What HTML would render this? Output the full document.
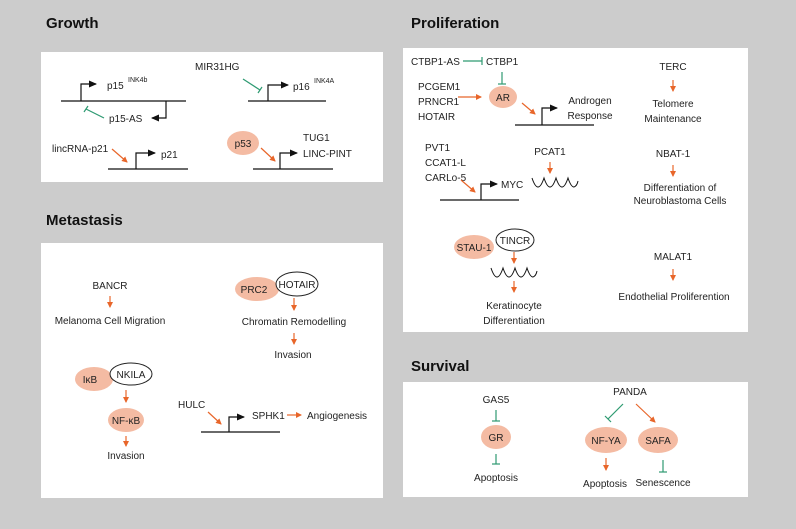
<!DOCTYPE html>
<html><head><meta charset="utf-8"><style>
html,body{margin:0;padding:0;background:#cccccc;}
svg{display:block;}
text{font-family:"Liberation Sans",Arial,sans-serif;font-size:10px;fill:#222;}
.t{font-size:15px;font-weight:bold;fill:#111;}
.c{text-anchor:middle;}
.o{stroke:#e8662a;stroke-width:1.2;fill:none;}
.g{stroke:#2e9a72;stroke-width:1.2;fill:none;}
.k{stroke:#111;stroke-width:1.2;fill:none;}
.f{fill:#f4bba3;}
.e{fill:#fff;stroke:#222;stroke-width:1;}
</style></head><body>
<svg width="796" height="529" viewBox="0 0 796 529" xmlns="http://www.w3.org/2000/svg">
<defs>
<marker id="ao" markerWidth="6" markerHeight="6" refX="5" refY="3" orient="auto" markerUnits="userSpaceOnUse"><path d="M0,0 L6,3 L0,6 Z" fill="#e8662a"/></marker>
<marker id="ak" markerWidth="8" markerHeight="7" refX="7" refY="3.5" orient="auto" markerUnits="userSpaceOnUse"><path d="M0,0 L8,3.5 L0,7 Z" fill="#111"/></marker>
</defs>
<rect width="796" height="529" fill="#cccccc"/>
<rect x="41" y="52" width="342" height="130" fill="#fff"/>
<rect x="403" y="48" width="345" height="284" fill="#fff"/>
<rect x="41" y="243" width="342" height="255" fill="#fff"/>
<rect x="403" y="382" width="345" height="115" fill="#fff"/>
<text class="t" x="46" y="28">Growth</text>
<text class="t" x="411" y="28">Proliferation</text>
<text class="t" x="46" y="225">Metastasis</text>
<text class="t" x="411" y="371">Survival</text>

<!-- Growth -->
<line class="k" x1="61" y1="101" x2="186" y2="101"/>
<path class="k" d="M81,101 V84 H96" marker-end="url(#ak)"/>
<text x="107" y="89">p15</text><text x="128" y="82" style="font-size:7px">INK4b</text>
<path class="k" d="M166,101 V118 H152" marker-end="url(#ak)"/>
<text x="109" y="122">p15-AS</text>
<line class="g" x1="104" y1="118" x2="86" y2="109"/><line class="g" x1="84" y1="112" x2="88" y2="106"/>
<text x="195" y="70">MIR31HG</text>
<line class="g" x1="243" y1="79" x2="260" y2="90"/><line class="g" x1="258" y1="93" x2="262" y2="87"/>
<line class="k" x1="248" y1="101" x2="326" y2="101"/>
<path class="k" d="M268,101 V85 H288" marker-end="url(#ak)"/>
<text x="293" y="90">p16</text><text x="314" y="83" style="font-size:7px">INK4A</text>
<text x="52" y="152">lincRNA-p21</text>
<line class="o" x1="112" y1="149" x2="127" y2="162" marker-end="url(#ao)"/>
<line class="k" x1="108" y1="169" x2="188" y2="169"/>
<path class="k" d="M136,169 V153 H155" marker-end="url(#ak)"/>
<text x="161" y="158">p21</text>
<ellipse class="f" cx="243" cy="143" rx="16" ry="12"/><text class="c" x="243" y="147">p53</text>
<line class="o" x1="261" y1="148" x2="275" y2="161" marker-end="url(#ao)"/>
<line class="k" x1="253" y1="169" x2="333" y2="169"/>
<path class="k" d="M280,169 V153 H297" marker-end="url(#ak)"/>
<text x="303" y="141">TUG1</text><text x="303" y="157">LINC-PINT</text>

<!-- Proliferation -->
<text x="411" y="65">CTBP1-AS</text>
<line class="g" x1="463" y1="61" x2="482" y2="61"/><line class="g" x1="482" y1="57" x2="482" y2="65"/>
<text x="486" y="65">CTBP1</text>
<line class="g" x1="502" y1="72" x2="502" y2="84"/><line class="g" x1="498" y1="84" x2="506" y2="84"/>
<text x="418" y="90">PCGEM1</text><text x="418" y="105">PRNCR1</text><text x="418" y="120">HOTAIR</text>
<line class="o" x1="458" y1="97" x2="481" y2="97" marker-end="url(#ao)"/>
<ellipse class="f" cx="503" cy="97" rx="14" ry="11"/><text class="c" x="503" y="101">AR</text>
<line class="o" x1="522" y1="103" x2="535" y2="114" marker-end="url(#ao)"/>
<line class="k" x1="515" y1="125" x2="594" y2="125"/>
<path class="k" d="M542,125 V108 H557" marker-end="url(#ak)"/>
<text class="c" x="590" y="104">Androgen</text><text class="c" x="590" y="119">Response</text>
<text class="c" x="673" y="70">TERC</text>
<line class="o" x1="673" y1="80" x2="673" y2="91" marker-end="url(#ao)"/>
<text class="c" x="673" y="107">Telomere</text><text class="c" x="673" y="122">Maintenance</text>
<text x="425" y="151">PVT1</text><text x="425" y="166">CCAT1-L</text><text x="425" y="181">CARLo-5</text>
<line class="o" x1="461" y1="180" x2="475" y2="192" marker-end="url(#ao)"/>
<line class="k" x1="440" y1="200" x2="519" y2="200"/>
<path class="k" d="M481,200 V184 H497" marker-end="url(#ak)"/>
<text x="501" y="188">MYC</text>
<path class="k" style="stroke-width:1" d="M532,178 Q535,187 538,187 Q541,187 544,178 Q547,187 550,187 Q553,187 556,178 Q559,187 562,187 Q565,187 568,178 Q571,187 574,187 Q577,186 578,181"/>
<text class="c" x="550" y="155">PCAT1</text>
<line class="o" x1="550" y1="162" x2="550" y2="173" marker-end="url(#ao)"/>
<text class="c" x="673" y="157">NBAT-1</text>
<line class="o" x1="673" y1="165" x2="673" y2="176" marker-end="url(#ao)"/>
<text class="c" x="680" y="191">Differentiation of</text><text class="c" x="680" y="204">Neuroblastoma Cells</text>
<ellipse class="f" cx="474" cy="247" rx="20" ry="12"/><text class="c" x="474" y="251">STAU-1</text>
<ellipse class="e" cx="515" cy="240" rx="19" ry="11"/><text class="c" x="515" y="244">TINCR</text>
<line class="o" x1="514" y1="252" x2="514" y2="263" marker-end="url(#ao)"/>
<path class="k" style="stroke-width:1" d="M491,268 Q494,277 497,277 Q500,277 503,268 Q506,277 509,277 Q512,277 515,268 Q518,277 521,277 Q524,277 527,268 Q530,277 533,277 Q536,276 537,271"/>
<line class="o" x1="514" y1="281" x2="514" y2="292" marker-end="url(#ao)"/>
<text class="c" x="514" y="309">Keratinocyte</text><text class="c" x="514" y="324">Differentiation</text>
<text class="c" x="673" y="260">MALAT1</text>
<line class="o" x1="673" y1="269" x2="673" y2="280" marker-end="url(#ao)"/>
<text class="c" x="674" y="300">Endothelial Proliferention</text>

<!-- Metastasis -->
<text class="c" x="110" y="289">BANCR</text>
<line class="o" x1="110" y1="296" x2="110" y2="307" marker-end="url(#ao)"/>
<text class="c" x="110" y="324">Melanoma Cell Migration</text>
<ellipse class="f" cx="257" cy="289" rx="22" ry="12"/><text class="c" x="254" y="293">PRC2</text>
<ellipse class="e" cx="297" cy="284" rx="21" ry="12"/><text class="c" x="297" y="288">HOTAIR</text>
<line class="o" x1="294" y1="298" x2="294" y2="310" marker-end="url(#ao)"/>
<text class="c" x="294" y="325">Chromatin Remodelling</text>
<line class="o" x1="294" y1="333" x2="294" y2="344" marker-end="url(#ao)"/>
<text class="c" x="293" y="358">Invasion</text>
<ellipse class="f" cx="94" cy="379" rx="19" ry="12"/><text class="c" x="90" y="383">IκB</text>
<ellipse class="e" cx="131" cy="374" rx="21" ry="11"/><text class="c" x="131" y="378">NKILA</text>
<line class="o" x1="126" y1="390" x2="126" y2="402" marker-end="url(#ao)"/>
<ellipse class="f" cx="126" cy="420" rx="18" ry="12"/><text class="c" x="126" y="424">NF-κB</text>
<line class="o" x1="126" y1="436" x2="126" y2="446" marker-end="url(#ao)"/>
<text class="c" x="126" y="459">Invasion</text>
<text x="178" y="408">HULC</text>
<line class="o" x1="208" y1="412" x2="221" y2="424" marker-end="url(#ao)"/>
<line class="k" x1="201" y1="432" x2="280" y2="432"/>
<path class="k" d="M229,432 V417 H244" marker-end="url(#ak)"/>
<text x="252" y="419">SPHK1</text>
<line class="o" x1="287" y1="415" x2="301" y2="415" marker-end="url(#ao)"/>
<text x="307" y="419">Angiogenesis</text>

<!-- Survival -->
<text class="c" x="496" y="403">GAS5</text>
<line class="g" x1="496" y1="410" x2="496" y2="421"/><line class="g" x1="492" y1="421" x2="500" y2="421"/>
<ellipse class="f" cx="496" cy="437" rx="15" ry="12"/><text class="c" x="496" y="441">GR</text>
<line class="g" x1="496" y1="454" x2="496" y2="464"/><line class="g" x1="492" y1="464" x2="500" y2="464"/>
<text class="c" x="496" y="481">Apoptosis</text>
<text class="c" x="630" y="395">PANDA</text>
<line class="g" x1="623" y1="404" x2="608" y2="419"/><line class="g" x1="605" y1="416" x2="611" y2="422"/>
<line class="o" x1="636" y1="404" x2="655" y2="422" marker-end="url(#ao)"/>
<ellipse class="f" cx="606" cy="440" rx="21" ry="13"/><text class="c" x="606" y="444">NF-YA</text>
<ellipse class="f" cx="658" cy="440" rx="20" ry="13"/><text class="c" x="658" y="444">SAFA</text>
<line class="o" x1="606" y1="458" x2="606" y2="470" marker-end="url(#ao)"/>
<line class="g" x1="663" y1="460" x2="663" y2="472"/><line class="g" x1="659" y1="472" x2="667" y2="472"/>
<text class="c" x="605" y="487">Apoptosis</text>
<text class="c" x="663" y="486">Senescence</text>
</svg>
</body></html>
